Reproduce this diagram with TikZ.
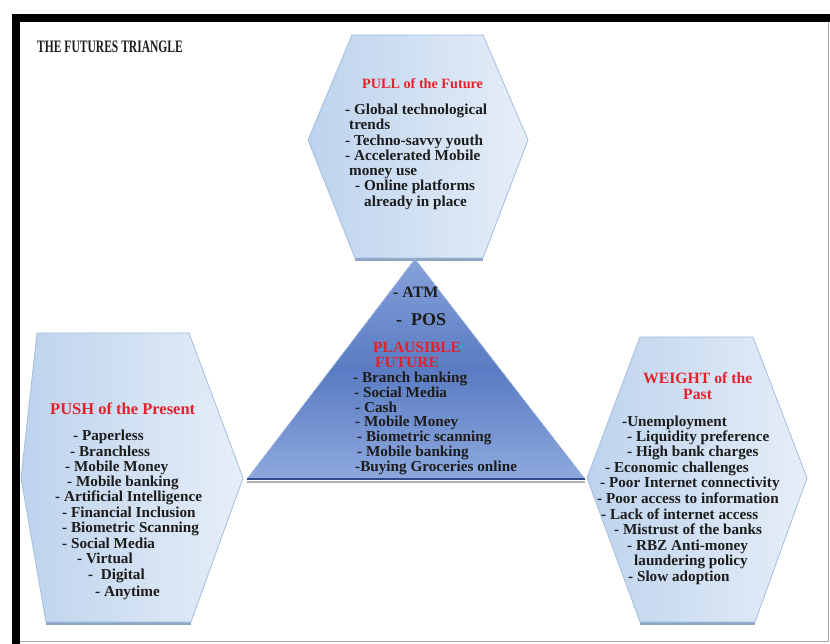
\documentclass[tikz,border=0pt]{standalone}
\usepackage{fontspec}
\setmainfont{Liberation Serif}

\definecolor{hexedge}{HTML}{A3BEDD}
\definecolor{hexlight}{HTML}{E6EEF8}
\definecolor{hexdark}{HTML}{BDD3ED}
\definecolor{hexshadow}{HTML}{8DA5C4}
\definecolor{tritop}{HTML}{86A2DA}
\definecolor{trimid}{HTML}{5A7BC3}
\definecolor{tribot}{HTML}{8EA9DE}
\definecolor{tribase}{HTML}{2F4B8C}
\definecolor{headred}{HTML}{E5222C}
\definecolor{txt}{HTML}{1C1C1C}

\begin{document}
\begin{tikzpicture}[x=1pt, y=-1pt,
    item/.style={anchor=base west, inner sep=0pt, text=txt, font=\bfseries\fontsize{15.2}{15.2}\selectfont},
    head/.style={item, text=headred, font=\bfseries\fontsize{15.5}{15.5}\selectfont},
    hexfill/.style={left color=hexdark, right color=hexlight, draw=hexedge, line width=0.8pt}]
    \useasboundingbox (0,0) rectangle (830,644);

    % frame: heavy on top and left, thin on the other two sides
    \fill (12,14) rectangle (830,22);
    \fill (12,14) rectangle (20,644);
    \draw[gray!70, line width=1.5pt] (828.5,22) -- (828.5,641.5) -- (20,641.5);

    \node[item, font=\bfseries\fontsize{17.5}{17.5}\selectfont] (title) at (37,53)
        {\scalebox{0.66}[1]{THE FUTURES TRIANGLE}};

    % Pull hexagon (top)
    \coordinate (U1) at (352,35);
    \coordinate (U2) at (483,35);
    \coordinate (U3) at (528,140);
    \coordinate (U4) at (483,258);
    \coordinate (U5) at (355,258);
    \coordinate (U6) at (308,140);
    \draw[hexshadow, line width=2.5pt] ([yshift=-1.5pt]U5) -- ([yshift=-1.5pt]U4);
    \shade[hexfill] (U1) -- (U2) -- (U3) -- (U4) -- (U5) -- (U6) -- cycle;

    % Push hexagon (left)
    \coordinate (L1) at (37,333);
    \coordinate (L2) at (189,333);
    \coordinate (L3) at (243,478);
    \coordinate (L4) at (191,622);
    \coordinate (L5) at (46,622);
    \coordinate (L6) at (21,478);
    \draw[hexshadow, line width=2.5pt] ([yshift=-1.5pt]L5) -- ([yshift=-1.5pt]L4);
    \shade[hexfill] (L1) -- (L2) -- (L3) -- (L4) -- (L5) -- (L6) -- cycle;

    % Weight hexagon (right)
    \coordinate (R1) at (640,337);
    \coordinate (R2) at (753,337);
    \coordinate (R3) at (807,478);
    \coordinate (R4) at (755,622);
    \coordinate (R5) at (640,622);
    \coordinate (R6) at (587,478);
    \draw[hexshadow, line width=2.5pt] ([yshift=-1.5pt]R5) -- ([yshift=-1.5pt]R4);
    \shade[hexfill] (R1) -- (R2) -- (R3) -- (R4) -- (R5) -- (R6) -- cycle;

    % triangle in the middle
    \coordinate (T1) at (415,259);
    \coordinate (T2) at (247,479);
    \coordinate (T3) at (585,479);
    \shade[top color=tritop, bottom color=tribot, middle color=trimid, draw=tritop!80!white, line width=0.6pt]
        (T1) -- (T3) -- (T2) -- cycle;
    \draw[gray!60, line width=2pt] ([yshift=-2.5pt]T2) -- ([yshift=-2.5pt]T3);
    \draw[tribase, line width=2.5pt] (T2) -- (T3);

    % PULL of the Future
    \node[head, font=\bfseries\fontsize{14.2}{14.2}\selectfont] (pullhead) at (362,89) {PULL of the Future};
    \foreach \x/\y/\t [count=\i] in {345/114.5/- Global technological, 349/129.8/trends,
        345/145.1/- Techno-savvy youth, 345/160.4/- Accelerated Mobile, 349/175.7/money use,
        355/191/- Online platforms, 364/206.3/already in place}
        \node[item] (pull\i) at (\x,\y) {\t};

    % PLAUSIBLE FUTURE
    \node[item, font=\bfseries\fontsize{15.9}{15.9}\selectfont] (atm) at (393,298) {- ATM};
    \node[item, font=\bfseries\fontsize{18}{18}\selectfont] (pos) at (396,325.5) {- \ POS};
    \node[head] (plaushead) at (373,352.5) {PLAUSIBLE};
    \node[head] (plausheadb) at (375,367.5) {FUTURE};
    \foreach \x/\y/\t [count=\i] in {353/382/- Branch banking, 354/397.5/- Social Media,
        355/412/- Cash, 355/426.5/- Mobile Money, 357/441/- Biometric scanning,
        357/456/- Mobile banking, 355/471.5/-Buying Groceries online}
        \node[item] (plaus\i) at (\x,\y) {\t};

    % PUSH of the Present
    \node[head, font=\bfseries\fontsize{16.5}{16.5}\selectfont] (pushhead) at (50,414.5) {PUSH of the Present};
    \foreach \x/\y/\t [count=\i] in {73/440.5/- Paperless, 70/456.5/- Branchless,
        65/471.5/- Mobile Money, 67/486.5/- Mobile banking, 55/501.5/- Artificial Intelligence,
        62/517.5/- Financial Inclusion, 62/532.5/- Biometric Scanning, 62/548.5/- Social Media,
        77/563.5/- Virtual, 88/579.5/- \ Digital, 95/596.5/- Anytime}
        \node[item] (push\i) at (\x,\y) {\t};

    % WEIGHT of the Past
    \node[head, font=\bfseries\fontsize{15.7}{15.7}\selectfont] (weighthead) at (643,383.5) {WEIGHT of the};
    \node[head, font=\bfseries\fontsize{15.7}{15.7}\selectfont] (weightheadb) at (683,399.5) {Past};
    \foreach \x/\y/\t [count=\i] in {622/426.5/-Unemployment, 627/441.5/- Liquidity preference,
        627/456.5/- High bank charges, 605/472.5/- Economic challenges,
        600/487.5/- Poor Internet connectivity, 597/503.5/- Poor access to information,
        601/519.5/- Lack of internet access, 614/534.5/- Mistrust of the banks,
        627/550.5/- RBZ Anti-money, 634/565.5/laundering policy, 628/581.5/- Slow adoption}
        \node[item] (weight\i) at (\x,\y) {\t};
\end{tikzpicture}
\end{document}
